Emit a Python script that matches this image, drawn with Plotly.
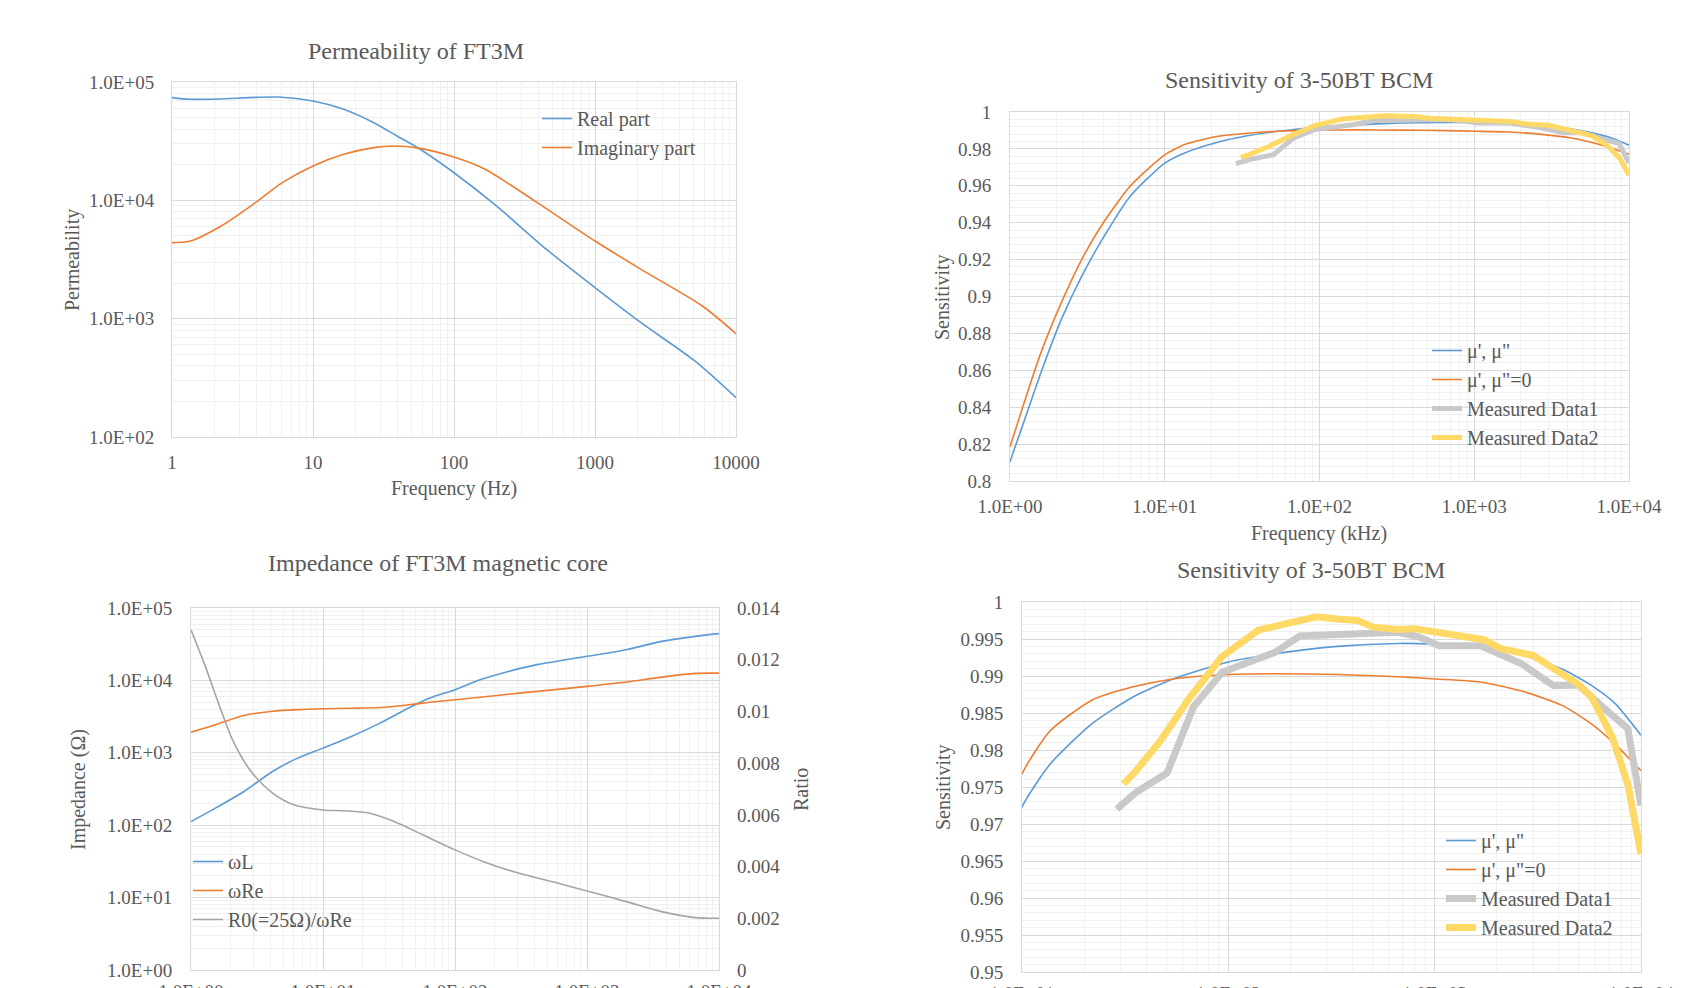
import plotly.graph_objects as go

# ---------------- data ----------------
# Permeability of FT3M (frequency in Hz)
perm_freq_real = [1, 1.35, 2.09, 3.9, 5.7, 10, 16.5, 27, 39.4, 57.5, 100, 200, 424, 1000, 2120, 5100, 10000]
perm_real = [73800, 71400, 71800, 74100, 74600, 69000, 58800, 45300, 35000, 27000, 17100, 8960, 4110, 1830, 925, 439, 215]
perm_freq_imag = [1, 1.35, 2.23, 3.9, 6.06, 10, 16.5, 27, 37, 57.5, 100, 166, 375, 1000, 2120, 5770, 10000]
perm_imag = [4390, 4530, 6070, 9550, 14100, 19500, 24500, 27900, 28800, 27500, 23200, 18300, 9860, 4530, 2610, 1280, 746]

# Sensitivity of 3-50BT BCM (frequency in kHz)
sens_freq_model = [1, 1.24, 1.58, 2.14, 2.9, 3.93, 6, 10, 13.7, 21.7, 34.2, 54, 100, 168, 337, 667,
                   1000, 1660, 2620, 4170, 5770, 7480, 10000]
sens_mu_both = [0.8105, 0.833, 0.8584, 0.8873, 0.9108, 0.9307, 0.9545, 0.9723, 0.9781, 0.9835, 0.9871,
                0.9896, 0.9919, 0.9930, 0.9940, 0.9944, 0.9943, 0.9939, 0.9929, 0.9909, 0.9887, 0.9863, 0.9820]
sens_mu_im0 = [0.8186, 0.843, 0.8693, 0.8964, 0.9199, 0.9389, 0.9600, 0.9768, 0.9826, 0.9867, 0.9885,
               0.9896, 0.9902, 0.9903, 0.9902, 0.9899, 0.9896, 0.9892, 0.9880, 0.9860, 0.9835, 0.9808, 0.9772]
meas1_freq = [28.8, 35.8, 50.5, 67.7, 93.4, 135, 168, 222, 337, 484, 667, 838, 1050, 1660, 2620, 3770,
              4960, 6530, 8630, 10000]
meas1 = [0.9720, 0.9743, 0.9769, 0.9858, 0.9905, 0.9923, 0.9932, 0.9954, 0.9956, 0.9959, 0.9959, 0.9953,
         0.9941, 0.9941, 0.9917, 0.9887, 0.9888, 0.9858, 0.9829, 0.9725]
meas2_freq = [31, 35, 47, 65, 93, 140, 194, 267, 337, 422, 505, 667, 800, 1050, 1320, 1730, 2090, 3000,
              3770, 4960, 5770, 7270, 8630, 10000]
meas2 = [0.9754, 0.9769, 0.9813, 0.9871, 0.9926, 0.9962, 0.9971, 0.9980, 0.9977, 0.9975, 0.9966, 0.9963,
         0.9964, 0.9958, 0.9953, 0.9949, 0.9937, 0.9928, 0.9910, 0.9889, 0.9871, 0.9817, 0.9754, 0.9659]

# Impedance of FT3M magnetic core (frequency in Hz)
imp_freq = [1, 1.53, 2.52, 4.15, 6.42, 10, 16.4, 27, 44.5, 64.5, 100, 155, 254, 418, 1000, 1980, 3680, 6600, 10000]
omega_L = [112, 172, 292, 552, 844, 1160, 1680, 2570, 4150, 5700, 7430, 10200, 13300, 16500, 21500,
           26500, 34600, 40600, 44200]
omega_Re = [1930, 2440, 3280, 3750, 3950, 4060, 4120, 4220, 4600, 4980, 5410, 5850, 6450, 7050, 8260,
            9480, 11100, 12500, 12600]
ratio_freq = [1, 1.27, 1.63, 2.09, 2.85, 4.15, 6.0, 10, 14.5, 22.3, 34.6, 57, 100, 165, 306, 570, 1000,
              1980, 3680, 6600, 10000]
ratio = [0.01316, 0.01181, 0.01026, 0.00884, 0.00768, 0.00684, 0.00639, 0.00619, 0.00616, 0.00607,
         0.00574, 0.00523, 0.004645, 0.00419, 0.00374, 0.00339, 0.003058, 0.002645, 0.002258, 0.002026, 0.0020]

# tick label text (maps plotly's default log labels to the chart's labels)
E_LABELS = {"1": "1.0E+00", "10": "1.0E+01", "100": "1.0E+02", "1000": "1.0E+03",
            "10,000": "1.0E+04", "10000": "1.0E+04", "100,000": "1.0E+05", "100000": "1.0E+05"}
PLAIN_LABELS = {"10,000": "10000"}

titles = ["Permeability of FT3M", "Sensitivity of 3-50BT BCM",
          "Impedance of FT3M magnetic core", "Sensitivity of 3-50BT BCM"]

# ---------------- style ----------------
OFF = 8                      # page body margin
W, H = 1700 - OFF, 988 - OFF  # figure size so that the page is exactly 1700x988
FONT = "Liberation Serif"
TXT = "#595959"
MAJOR = "#D9D9D9"
MINOR = "#F0F0F0"
BLUE = "#5B9BD5"
ORANGE = "#ED7D31"
GRAY = "#A5A5A5"
MGRAY = "#C9C9C9"
YELLOW = "#FFD966"


def fx(p):
    return (p - OFF) / W


def fy(p):
    return 1 - (p - OFF) / H


def px_x(a, b):
    return [fx(a), fx(b)]


def px_y(top, bottom):
    return [fy(bottom), fy(top)]


def log_axis(rng, domain, alias=None, standoff=14, anchor=None):
    d = dict(type="log", range=rng, domain=domain, tickmode="linear", tick0=0, dtick=1,
             exponentformat="none", showgrid=True, gridcolor=MAJOR, gridwidth=1,
             minor=dict(dtick="D1", showgrid=True, gridcolor=MINOR, gridwidth=1),
             showline=True, mirror=True, linecolor=MAJOR, linewidth=1, ticks="",
             ticklabelstandoff=standoff, zeroline=False, automargin=False,
             tickfont=dict(family=FONT, size=19, color=TXT))
    if alias:
        d["labelalias"] = alias
    if anchor:
        d["anchor"] = anchor
    return d


def lin_axis(rng, domain, dtick, mdtick, standoff=14, anchor=None):
    d = dict(type="linear", range=rng, domain=domain, tickmode="linear", tick0=0, dtick=dtick,
             showgrid=True, gridcolor=MAJOR, gridwidth=1,
             minor=dict(dtick=mdtick, showgrid=True, gridcolor=MINOR, gridwidth=1),
             showline=True, mirror=True, linecolor=MAJOR, linewidth=1, ticks="",
             ticklabelstandoff=standoff, zeroline=False, automargin=False,
             tickfont=dict(family=FONT, size=19, color=TXT))
    if anchor:
        d["anchor"] = anchor
    return d


fig = go.Figure()

# --- top-left: permeability
fig.add_trace(go.Scatter(x=perm_freq_real, y=perm_real, mode="lines", name="Real part",
                         line=dict(color=BLUE, width=1.6, shape="spline", smoothing=0.8),
                         xaxis="x", yaxis="y", legend="legend"))
fig.add_trace(go.Scatter(x=perm_freq_imag, y=perm_imag, mode="lines", name="Imaginary part",
                         line=dict(color=ORANGE, width=1.6, shape="spline", smoothing=0.8),
                         xaxis="x", yaxis="y", legend="legend"))

# --- top-right and bottom-right: sensitivity
for xa, ya, lg, mw in (("x2", "y2", "legend2", 5), ("x4", "y4", "legend4", 7)):
    fig.add_trace(go.Scatter(x=sens_freq_model, y=sens_mu_both, mode="lines", name="\u03bc', \u03bc\"",
                             line=dict(color=BLUE, width=1.6, shape="spline", smoothing=0.6),
                             xaxis=xa, yaxis=ya, legend=lg))
    fig.add_trace(go.Scatter(x=sens_freq_model, y=sens_mu_im0, mode="lines", name="\u03bc', \u03bc\"=0",
                             line=dict(color=ORANGE, width=1.6, shape="spline", smoothing=0.6),
                             xaxis=xa, yaxis=ya, legend=lg))
    fig.add_trace(go.Scatter(x=meas1_freq, y=meas1, mode="lines", name="Measured Data1",
                             line=dict(color=MGRAY, width=mw),
                             xaxis=xa, yaxis=ya, legend=lg))
    fig.add_trace(go.Scatter(x=meas2_freq, y=meas2, mode="lines", name="Measured Data2",
                             line=dict(color=YELLOW, width=mw),
                             xaxis=xa, yaxis=ya, legend=lg))

# --- bottom-left: impedance
fig.add_trace(go.Scatter(x=imp_freq, y=omega_L, mode="lines", name="\u03c9L",
                         line=dict(color=BLUE, width=1.6, shape="spline", smoothing=0.8),
                         xaxis="x3", yaxis="y3", legend="legend3"))
fig.add_trace(go.Scatter(x=imp_freq, y=omega_Re, mode="lines", name="\u03c9Re",
                         line=dict(color=ORANGE, width=1.6, shape="spline", smoothing=0.8),
                         xaxis="x3", yaxis="y3", legend="legend3"))
fig.add_trace(go.Scatter(x=ratio_freq, y=ratio, mode="lines", name="R0(=25\u03a9)/\u03c9Re",
                         line=dict(color=GRAY, width=1.6, shape="spline", smoothing=0.8),
                         xaxis="x3", yaxis="y5", legend="legend3"))

leg_common = dict(bgcolor="rgba(0,0,0,0)", borderwidth=0, xanchor="left", yanchor="top",
                  font=dict(family=FONT, size=20, color=TXT), tracegroupgap=0, itemwidth=30)

fig.update_layout(
    width=W, height=H, autosize=False,
    margin=dict(l=0, r=0, t=0, b=0, pad=0, autoexpand=False),
    paper_bgcolor="white", plot_bgcolor="white",
    font=dict(family=FONT, color=TXT),
    xaxis=log_axis([0, 4], px_x(172, 736), alias=PLAIN_LABELS, standoff=8, anchor="y"),
    yaxis=log_axis([2, 5], px_y(82, 437), alias=E_LABELS, standoff=13, anchor="x"),
    xaxis2=log_axis([0, 4], px_x(1010, 1629), alias=E_LABELS, standoff=8, anchor="y2"),
    yaxis2=lin_axis([0.8, 1.0], px_y(112, 481), 0.02, 0.004, standoff=14, anchor="x2"),
    xaxis3=log_axis([0, 4], px_x(191, 719), alias=E_LABELS, standoff=4, anchor="y3"),
    yaxis3=log_axis([0, 5], px_y(608, 970), alias=E_LABELS, standoff=14, anchor="x3"),
    yaxis5=dict(type="linear", range=[0, 0.014], tickmode="linear", tick0=0, dtick=0.002,
                overlaying="y3", side="right", anchor="x3", showgrid=False, zeroline=False,
                showline=False, ticks="", ticklabelstandoff=17, automargin=False,
                tickfont=dict(family=FONT, size=19, color=TXT)),
    xaxis4=log_axis([1, 4], px_x(1022, 1641), alias=E_LABELS, standoff=4, anchor="y4"),
    yaxis4=lin_axis([0.95, 1.0], px_y(602, 972), 0.005, 0.001, standoff=14, anchor="x4"),
    legend=dict(x=fx(537), y=fy(99), **leg_common),
    legend2=dict(x=fx(1427), y=fy(331), **leg_common),
    legend3=dict(x=fx(188), y=fy(842), **leg_common),
    legend4=dict(x=fx(1441), y=fy(821), **leg_common),
    showlegend=True,
)

# chart titles
title_pos = [(416, 51), (1299, 80), (438, 563), (1311, 570)]
for t, (x, y) in zip(titles, title_pos):
    fig.add_annotation(text=t, x=fx(x), y=fy(y), xref="paper", yref="paper", showarrow=False,
                       xanchor="center", yanchor="middle", font=dict(family=FONT, size=24, color=TXT))

# axis titles
axis_titles = [
    ("Frequency (Hz)", 454, 488, 0),
    ("Permeability", 73, 260, -90),
    ("Frequency (kHz)", 1319, 533, 0),
    ("Sensitivity", 942, 297, -90),
    ("Impedance (\u03a9)", 78, 790, -90),
    ("Ratio", 801, 790, -90),
    ("Sensitivity", 943, 787, -90),
]
for t, x, y, ang in axis_titles:
    fig.add_annotation(text=t, x=fx(x), y=fy(y), xref="paper", yref="paper", showarrow=False,
                       xanchor="center", yanchor="middle", textangle=ang,
                       font=dict(family=FONT, size=20, color=TXT))

fig.write_html("out.html")
